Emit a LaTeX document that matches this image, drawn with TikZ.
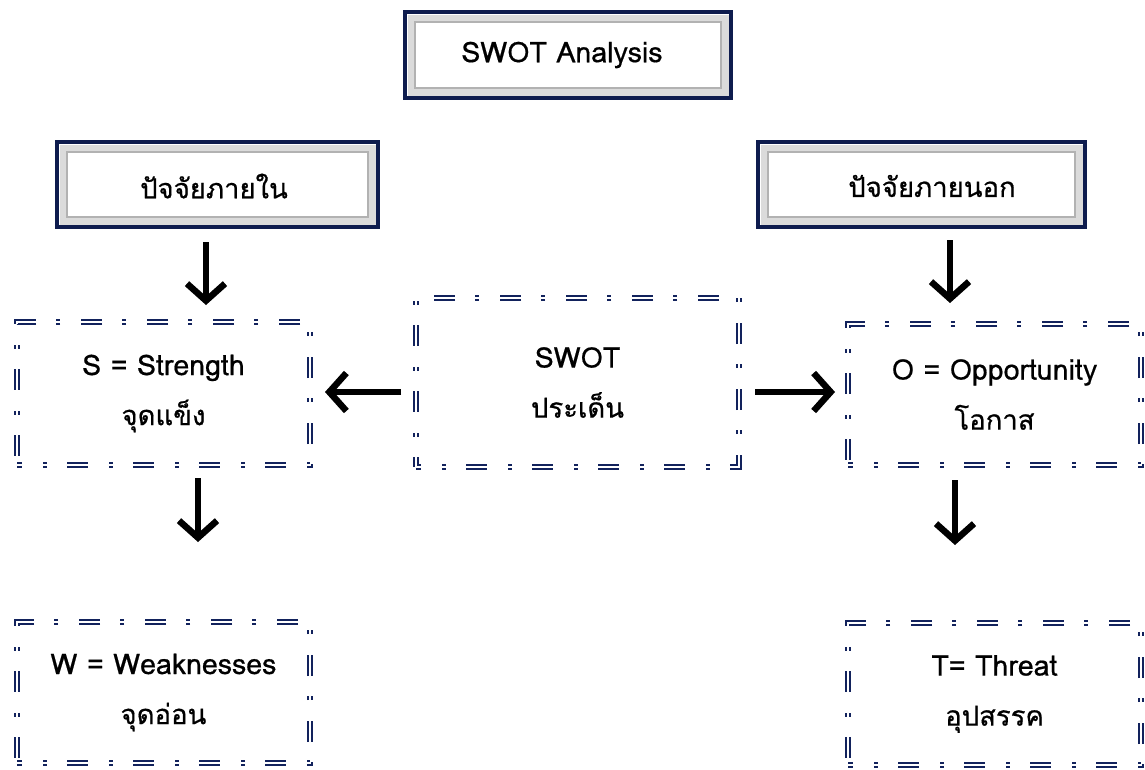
\documentclass[tikz,border=0pt]{standalone}
\usepackage{fontspec}
\newfontfamily\thai[Script=Thai,FakeBold=0.6]{Loma}
\usetikzlibrary{arrows.meta}
\definecolor{navy}{RGB}{18,34,92}
\definecolor{darknavy}{RGB}{14,28,78}
\newcommand\lat{\fontsize{28.5}{50}\selectfont}
\newcommand\tha{\fontsize{27.5}{50}\selectfont}
\begin{document}
\begin{tikzpicture}[x=1pt,y=-1pt,
  hdr/.style={draw=darknavy, line width=4pt, fill=white, inner sep=0pt, outer sep=0pt},
  bevel/.style={draw=gray!28, line width=7pt},
  bevelin/.style={draw=gray!60, line width=1.1pt},
  htext/.style={font=\thai},
  dbox/.style={draw=navy, line width=2pt, double=white, double distance=1.8pt,
    dash pattern=on 21pt off 21pt on 4pt off 20pt, dash phase=16pt,
    align=center, inner sep=0pt, outer sep=0pt, font=\thai\tha},
  arr/.style={line width=6.5pt, -{Straight Barb[length=17pt,width=38pt]}}
]
\useasboundingbox (0,0) rectangle (1145,769);
\fill[white] (0,0) rectangle (1145,769);

% header boxes
\node[hdr, minimum width=326pt, minimum height=86pt] (top) at (568,55) {};
\node[hdr, minimum width=321pt, minimum height=85pt] (hl) at (217.5,184.5) {};
\node[hdr, minimum width=327pt, minimum height=85pt] (hr) at (921.5,184.5) {};
\foreach \n in {top,hl,hr}{
  \draw[bevel] ([shift={(6,6)}]\n.north west) rectangle ([shift={(-6,-6)}]\n.south east);
  \draw[bevelin] ([shift={(10,10)}]\n.north west) rectangle ([shift={(-10,-10)}]\n.south east);
}
\node[htext] (topt) at (562,55) {\lat SWOT Analysis};
\node[htext] (hlt) at (214,186) {\tha ปัจจัยภายใน};
\node[htext] (hrt) at (932,186) {\tha ปัจจัยภายนอก};

% dashed double boxes
\node[dbox, minimum width=293pt, minimum height=143pt] (S) at (163.5,393.5) {{\lat S = Strength}\\จุดแข็ง};
\node[dbox, minimum width=323pt, minimum height=169pt] (C) at (577.5,382.5) {{\lat SWOT}\\ประเด็น};
\node[dbox, minimum width=293pt, minimum height=141pt] (O) at (994.5,394.5) {{\lat O = Opportunity}\\โอกาส};
\node[dbox, minimum width=293pt, minimum height=141pt] (W) at (163.5,692.5) {{\lat W = Weaknesses}\\จุดอ่อน};
\node[dbox, minimum width=293pt, minimum height=142pt] (T) at (994.5,694) {{\lat T= Threat}\\อุปสรรค};

% arrow end points
\coordinate (a1s) at (206,242); \coordinate (a1e) at (206,305);
\coordinate (a2s) at (950,240); \coordinate (a2e) at (950,303);
\coordinate (a3s) at (401,392); \coordinate (a3e) at (325,392);
\coordinate (a4s) at (755,392); \coordinate (a4e) at (835,392);
\coordinate (a5s) at (198,478); \coordinate (a5e) at (198,542);
\coordinate (a6s) at (955,480); \coordinate (a6e) at (955,545);
\foreach \i in {1,...,6}{ \draw[arr] (a\i s) -- (a\i e); }
\end{tikzpicture}
\end{document}
